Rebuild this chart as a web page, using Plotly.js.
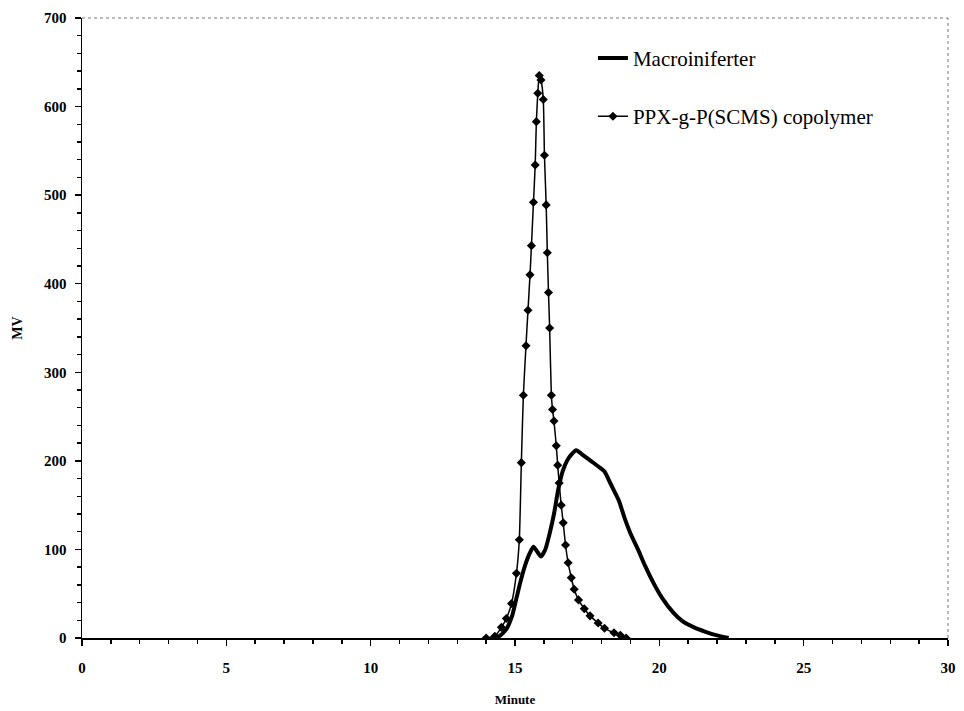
<!DOCTYPE html>
<html>
<head>
<meta charset="utf-8">
<script src="https://cdn.plot.ly/plotly-3.0.1.min.js"></script>
<style>html,body{margin:0;padding:0;background:#fff;}#chart{width:964px;height:711px;}</style>
</head>
<body>
<div id="chart"></div>
<script>
// Macroiniferter (broad peak)
const macroTime = [14.2,14.45,14.7,14.9,15.05,15.2,15.35,15.5,15.64,15.78,15.9,16.05,16.2,16.35,16.5,16.65,16.8,16.95,17.12,17.3,17.5,17.75,17.95,18.1,18.3,18.45,18.6,18.8,19.0,19.26,19.5,19.8,20.1,20.5,20.8,21.2,21.6,22.0,22.4];
const macroMV   = [0,2,10,25,45,65,82,95,103,97,92,100,118,140,168,188,200,207,212,208,203,197,192,188,175,165,155,135,118,100,82,62,45,28,19,12,7,3,0];

// PPX-g-P(SCMS) copolymer (narrow peak)
const copoTime = [14.0,14.3,14.53,14.7,14.88,15.05,15.15,15.22,15.29,15.38,15.45,15.52,15.57,15.64,15.7,15.74,15.79,15.84,15.9,15.98,16.02,16.08,16.12,16.16,16.2,16.26,16.3,16.35,16.43,16.48,16.53,16.6,16.67,16.75,16.84,16.95,17.05,17.2,17.4,17.6,17.88,18.1,18.43,18.65,18.85];
const copoMV   = [0,2,12,22,39,73,111,198,274,330,370,410,443,492,534,583,615,635,630,608,545,489,435,390,350,274,258,245,217,195,175,150,130,105,85,68,55,43,33,25,17,11,6,3,0];

const seriesNames = ["Macroiniferter", "PPX-g-P(SCMS) copolymer"];

const traces = [
  {x: macroTime, y: macroMV, name: seriesNames[0], mode: 'lines', legendgroup: 'a',
   line: {color: '#000', width: 4, shape: 'spline', smoothing: 0.6}},
  {x: copoTime, y: copoMV, name: seriesNames[1], mode: 'lines+markers', legendgroup: 'b',
   line: {color: '#000', width: 1.5, shape: 'spline', smoothing: 0.5},
   marker: {symbol: 'diamond', size: 7, color: '#000'}}
];

const tickFont = {family: 'Liberation Serif, Times New Roman, serif', size: 15, color: '#000', weight: 'bold'};

const layout = {
  width: 964, height: 711,
  margin: {l: 82, r: 16, t: 18, b: 73},
  paper_bgcolor: '#fff', plot_bgcolor: '#fff',
  showlegend: true,
  legend: {x: 0.59, y: 0.968, xanchor: 'left', yanchor: 'top',
    font: {family: 'Liberation Serif, Times New Roman, serif', size: 21, color: '#000'},
    bgcolor: 'rgba(0,0,0,0)', traceorder: 'grouped', tracegroupgap: 28},
  xaxis: {range: [0, 30], tickmode: 'linear', tick0: 0, dtick: 5,
    showgrid: false, zeroline: false, showline: true, linecolor: '#000', linewidth: 1.5,
    ticks: 'outside', ticklen: 6, tickwidth: 1.5, tickcolor: '#000', tickfont: tickFont, ticklabelstandoff: 9,
    minor: {tick0: 0, dtick: 1, ticks: 'outside', ticklen: 4, tickwidth: 1.5, tickcolor: '#000', showgrid: false},
    title: {text: 'Minute', font: {family: 'Liberation Serif, Times New Roman, serif', size: 13, color: '#000', weight: 'bold'}, standoff: 20}},
  yaxis: {range: [0, 700], tickmode: 'linear', tick0: 0, dtick: 100,
    showgrid: false, zeroline: false, showline: true, linecolor: '#000', linewidth: 1.5,
    ticks: 'outside', ticklen: 6, tickwidth: 1.5, tickcolor: '#000', tickfont: tickFont, ticklabelstandoff: 5,
    minor: {tick0: 0, dtick: 20, ticks: 'outside', ticklen: 4, tickwidth: 1.5, tickcolor: '#000', showgrid: false},
    title: {text: 'MV', font: {family: 'Liberation Serif, Times New Roman, serif', size: 14, color: '#000', weight: 'bold'}, standoff: 18}},
  shapes: [
    {type: 'line', xref: 'paper', yref: 'paper', x0: 0, x1: 1, y0: 1, y1: 1, line: {color: '#777', width: 1, dash: 'dot'}},
    {type: 'line', xref: 'paper', yref: 'paper', x0: 1, x1: 1, y0: 0, y1: 1, line: {color: '#777', width: 1, dash: 'dot'}}
  ]
};

Plotly.newPlot('chart', traces, layout, {displayModeBar: false, staticPlot: true});
</script>
</body>
</html>
